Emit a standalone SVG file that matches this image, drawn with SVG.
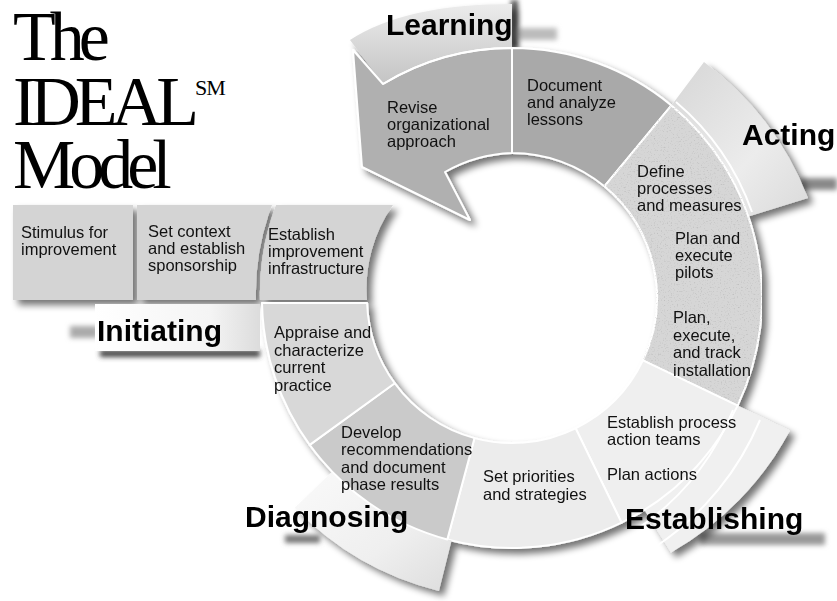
<svg xmlns="http://www.w3.org/2000/svg" width="837" height="601" viewBox="0 0 837 601">
<defs>
<style>
.t{font-family:"Liberation Sans",Arial,sans-serif;font-size:16.5px;fill:#111}
.lbl{font-family:"Liberation Sans",Arial,sans-serif;font-size:30px;font-weight:bold;fill:#000}
.title{font-family:"Liberation Serif","Times New Roman",serif;font-size:70px;letter-spacing:-6px;fill:#000}
.seg{stroke:#fff;stroke-width:2;stroke-linejoin:round}
.edge{fill:none;stroke:#fff;stroke-width:2}
</style>
<filter id="shadow" x="-10%" y="-10%" width="130%" height="130%">
<feGaussianBlur in="SourceAlpha" stdDeviation="3.5"/>
<feOffset dx="5" dy="5" result="b"/>
<feComponentTransfer in="b" result="s"><feFuncA type="linear" slope="0.55"/></feComponentTransfer>
<feMerge><feMergeNode in="s"/><feMergeNode in="SourceGraphic"/></feMerge>
</filter>
<filter id="blur" x="-30%" y="-100%" width="160%" height="300%"><feGaussianBlur stdDeviation="2.5"/></filter>
<filter id="speckle" x="0" y="0" width="1" height="1">
<feTurbulence type="fractalNoise" baseFrequency="0.7" numOctaves="2" seed="5" result="noise"/>
<feColorMatrix in="noise" type="matrix" values="0 0 0 0 0.45 0 0 0 0 0.45 0 0 0 0 0.45 2.2 0 0 0 -1.25" result="dots"/>
<feComposite in="dots" in2="SourceGraphic" operator="in" result="d2"/>
<feMerge><feMergeNode in="SourceGraphic"/><feMergeNode in="d2"/></feMerge>
</filter>
<linearGradient id="gLearnFlap" x1="0" y1="1" x2="0" y2="0">
<stop offset="0" stop-color="#c4c4c4"/><stop offset="1" stop-color="#ececec"/>
</linearGradient>
<linearGradient id="gActFlap" x1="0" y1="0" x2="1" y2="1">
<stop offset="0" stop-color="#d6d6d6"/><stop offset="0.6" stop-color="#ececec"/><stop offset="1" stop-color="#dadada"/>
</linearGradient>
<linearGradient id="gTab" x1="0" y1="0" x2="1" y2="0">
<stop offset="0" stop-color="#ffffff"/><stop offset="0.7" stop-color="#f4f4f4"/><stop offset="1" stop-color="#dcdcdc"/>
</linearGradient>
<linearGradient id="gDiagFlap" x1="0" y1="0" x2="1" y2="1">
<stop offset="0" stop-color="#fafafa"/><stop offset="0.6" stop-color="#efefef"/><stop offset="1" stop-color="#dddddd"/>
</linearGradient>
</defs>
<rect width="837" height="601" fill="#fff"/>

<g id="title">
<text class="title" x="13" y="60">The</text>
<text class="title" x="13" y="125">IDEAL</text>
<text class="title" x="195" y="95" style="font-size:22px;letter-spacing:-1px">SM</text>
<text class="title" x="13" y="188">Model</text>
</g>

<g id="soft-shadows" filter="url(#blur)">
<rect x="511" y="0" width="7" height="48" fill="#555"/>
<rect x="517" y="28" width="40" height="12" fill="#bbb"/>
<rect x="800" y="178" width="37" height="12" fill="#888"/>
<rect x="700" y="533" width="125" height="12" fill="#999"/>
<rect x="70" y="326" width="28" height="12" fill="#aaa"/>
<rect x="100" y="350" width="160" height="7" fill="#444"/>
<rect x="285" y="535" width="35" height="8" fill="#777"/>
</g>

<g filter="url(#shadow)">
<g id="learning-flap">
<path d="M350,40 Q405,4 512,4 L512,48 A250,250 0 0 0 383,84 Z" fill="url(#gLearnFlap)"/>
</g>
<g id="revise">
<path class="seg" d="M353,50 L362,167 L470,220 L445,172 A145,145 0 0 1 512,153 L512,48 A250,250 0 0 0 383,84 Z" fill="#b0b0b0"/>
</g>
<g id="document">
<path class="seg" d="M512,48 A250,250 0 0 1 671.4,105.4 L604.4,186.3 A145,145 0 0 0 512,153 Z" fill="#a9a9a9"/>
</g>
<g id="acting-flap">
<path d="M671.4,105.4 L704,62 A308,308 0 0 1 808,198 L748.4,216.6 A250,250 0 0 0 671.4,105.4 Z" fill="url(#gActFlap)"/>
</g>
<g id="acting-ring">
<path class="seg" d="M671.4,105.4 A250,250 0 0 1 737.6,405.6 L642.9,360.4 A145,145 0 0 0 604.4,186.3 Z" fill="#d6d6d6" filter="url(#speckle)"/>
</g>
<g id="establishing-flap">
<path d="M737.6,405.6 L790,430.6 A305,305 0 0 1 671,552.4 L644.5,510 A250,250 0 0 0 737.6,405.6 Z" fill="#f0f0f0"/>
</g>
<g id="establish-teams">
<path class="seg" d="M737.6,405.6 A250,250 0 0 1 621.6,522.7 L575.6,428.3 A145,145 0 0 0 642.9,360.4 Z" fill="#efefef"/>
</g>
<g id="set-priorities">
<path class="seg" d="M621.6,522.7 A250,250 0 0 1 447.3,539.5 L474.5,438.1 A145,145 0 0 0 575.6,428.3 Z" fill="#ececec"/>
</g>
<g id="diagnosing-flap">
<path d="M451.5,540.6 L438.9,591 A302,302 0 0 1 294.8,507.8 L332.2,471.7 A250,250 0 0 0 451.5,540.6 Z" fill="url(#gDiagFlap)"/>
</g>
<g id="develop">
<path class="seg" d="M309.7,444.9 L394.7,383.2 A145,145 0 0 0 474.5,438.1 L447.3,539.5 A250,250 0 0 1 309.7,444.9 Z" fill="#cacaca"/>
</g>
<g id="appraise">
<path class="seg" d="M262,303 L367.1,303 A145,145 0 0 0 394.7,383.2 L309.7,444.9 A250,250 0 0 1 262,303 Z" fill="#d8d8d8"/>
</g>
<g id="stimulus">
<rect x="13" y="205" width="120" height="95" fill="#d4d4d4"/>
</g>
<g id="set-context">
<path d="M137,205 L272,205 A250,250 0 0 0 256,300 L137,300 Z" fill="#d4d4d4"/>
</g>
<g id="infrastructure">
<path d="M276,205 L393,205 A145,145 0 0 0 367,300 L260,300 A250,250 0 0 1 276,205 Z" fill="#d4d4d4"/>
</g>
</g>

<g id="flap-edges">
<path class="edge" d="M383,84 A250,250 0 0 1 512,48"/>
<path class="edge" d="M676,102 A256,256 0 0 1 752,212" stroke-width="1.5"/>
<path class="edge" d="M733,410 A262,262 0 0 1 640,527" stroke-width="1.5"/>
<path class="edge" d="M760,420 A282,282 0 0 1 658,545" stroke-width="1.5"/>
</g>

<g id="initiating-tab">
<rect x="95" y="304" width="165" height="47" fill="url(#gTab)"/>
</g>

<g id="texts">
<text class="t"><tspan x="387" y="113">Revise</tspan><tspan x="387" y="130">organizational</tspan><tspan x="387" y="147">approach</tspan></text>
<text class="t"><tspan x="527" y="91">Document</tspan><tspan x="527" y="108">and analyze</tspan><tspan x="527" y="125">lessons</tspan></text>
<text class="t"><tspan x="637" y="177">Define</tspan><tspan x="637" y="194">processes</tspan><tspan x="637" y="211">and measures</tspan></text>
<text class="t"><tspan x="675" y="244">Plan and</tspan><tspan x="675" y="261">execute</tspan><tspan x="675" y="278">pilots</tspan></text>
<text class="t"><tspan x="673" y="323">Plan,</tspan><tspan x="673" y="341">execute,</tspan><tspan x="673" y="358">and track</tspan><tspan x="673" y="376">installation</tspan></text>
<text class="t"><tspan x="607" y="428">Establish process</tspan><tspan x="607" y="445">action teams</tspan></text>
<text class="t" x="607" y="480">Plan actions</text>
<text class="t"><tspan x="483" y="482">Set priorities</tspan><tspan x="483" y="500">and strategies</tspan></text>
<text class="t"><tspan x="341" y="438">Develop</tspan><tspan x="341" y="455">recommendations</tspan><tspan x="341" y="473">and document</tspan><tspan x="341" y="490">phase results</tspan></text>
<text class="t"><tspan x="274" y="338">Appraise and</tspan><tspan x="274" y="356">characterize</tspan><tspan x="274" y="373">current</tspan><tspan x="274" y="391">practice</tspan></text>
<text class="t"><tspan x="21" y="238">Stimulus for</tspan><tspan x="21" y="255">improvement</tspan></text>
<text class="t"><tspan x="148" y="237">Set context</tspan><tspan x="148" y="254">and establish</tspan><tspan x="148" y="271">sponsorship</tspan></text>
<text class="t"><tspan x="268" y="240">Establish</tspan><tspan x="268" y="257">improvement</tspan><tspan x="268" y="274">infrastructure</tspan></text>
</g>

<g id="phase-labels">
<text class="lbl" x="386" y="35">Learning</text>
<text class="lbl" x="742" y="145">Acting</text>
<text class="lbl" x="625" y="529">Establishing</text>
<text class="lbl" x="245" y="527">Diagnosing</text>
<text class="lbl" x="97" y="341">Initiating</text>
</g>
</svg>
